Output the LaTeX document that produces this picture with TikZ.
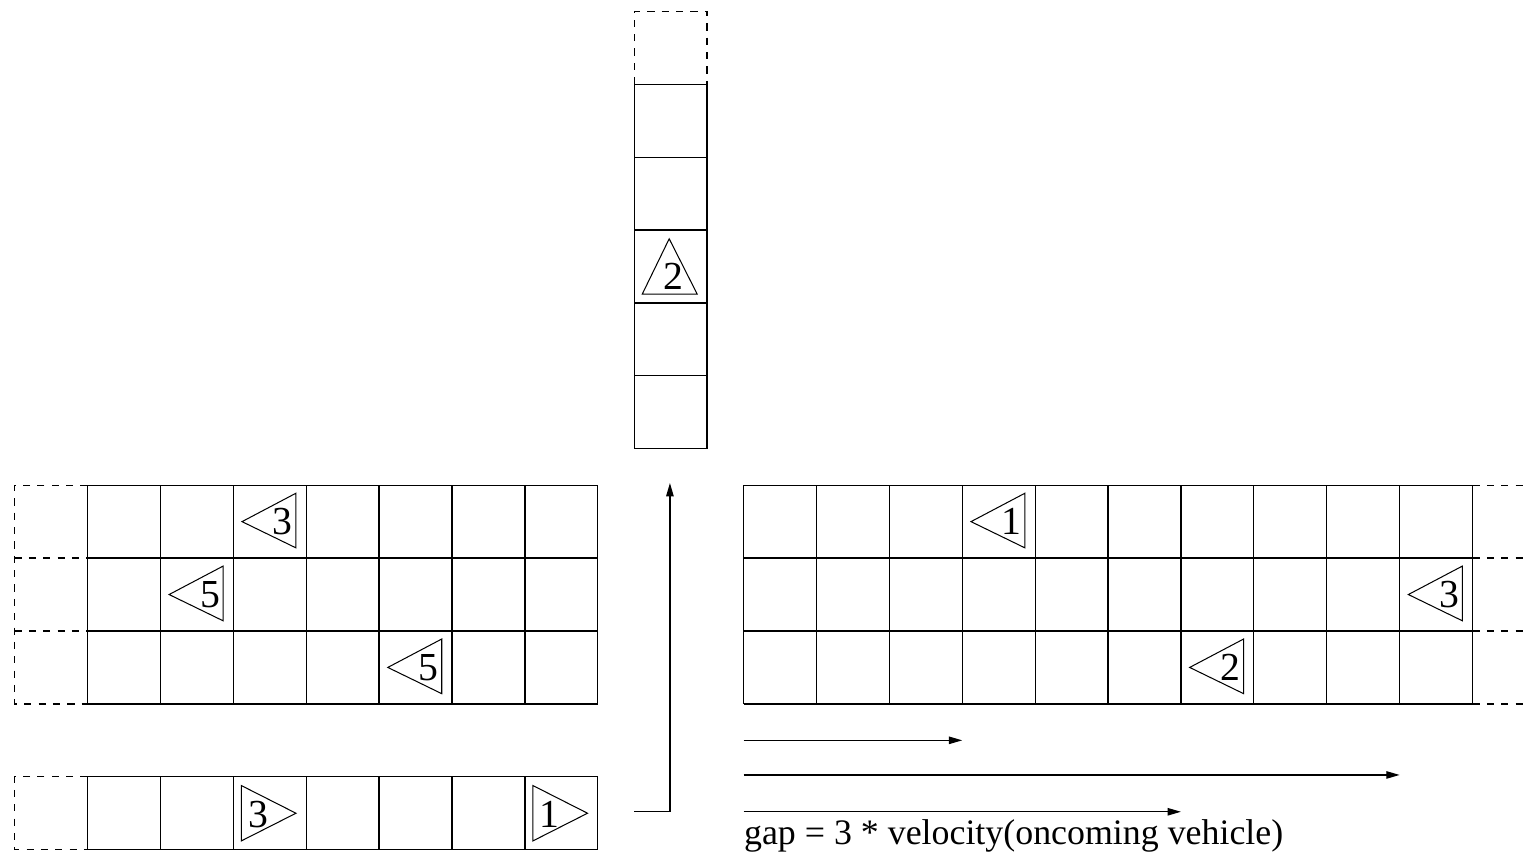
\documentclass[tikz,border=0pt]{standalone}
\usepackage{fontspec}
\setmainfont{Liberation Serif}
\usetikzlibrary{arrows.meta}

\newcommand{\carleft}[4]{%
  \draw[car] (#2+0.12,#3+0.5) -- (#2+0.86,#3+0.89) -- (#2+0.86,#3+0.14) -- cycle;
  \node[speed] (#1) at (#2+0.68,#3+0.5) {#4};}
\newcommand{\carright}[4]{%
  \draw[car] (#2+0.86,#3+0.5) -- (#2+0.11,#3+0.88) -- (#2+0.11,#3+0.12) -- cycle;
  \node[speed] (#1) at (#2+0.34,#3+0.48) {#4};}
\newcommand{\carup}[4]{%
  \draw[car] (#2+0.48,#3+0.88) -- (#2+0.11,#3+0.12) -- (#2+0.865,#3+0.12) -- cycle;
  \node[speed] (#1) at (#2+0.54,#3+0.36) {#4};}

\begin{document}
\begin{tikzpicture}[
    lane/.style={line width=0.5pt},
    dashlane/.style={line width=0.5pt, dash pattern=on 2.8pt off 2.8pt},
    car/.style={line width=0.4pt, line join=miter},
    speed/.style={inner sep=0pt, font=\fontsize{15.5}{17}\selectfont},
    note/.style={inner sep=0pt, font=\fontsize{14}{16}\selectfont},
    flow/.style={line width=0.5pt, -{Triangle[length=5.2pt, width=2.9pt]}},
]
\useasboundingbox (0,0) rectangle (20.92,11.756);

% west road, three lanes towards the west
\draw[lane, shift={(1.2,2.1)}] (0,0) grid (7,3);
\draw[dashlane] (1.2,5.1) -- (0.2,5.1) -- (0.2,2.1) -- (1.2,2.1);
\draw[dashlane] (0.2,4.1) -- (1.2,4.1);
\draw[dashlane] (0.2,3.1) -- (1.2,3.1);

% west road, lane towards the crossing
\draw[lane, shift={(1.2,0.1)}] (0,0) grid (7,1);
\draw[dashlane] (1.2,1.1) -- (0.2,1.1) -- (0.2,0.1) -- (1.2,0.1);

% north road
\draw[lane, shift={(8.7,5.6)}] (0,0) grid (1,5);
\draw[dashlane] (8.7,10.6) -- (8.7,11.6) -- (9.7,11.6) -- (9.7,10.6);

% east road
\draw[lane, shift={(10.2,2.1)}] (0,0) grid (10,3);
\foreach \y in {2.1,3.1,4.1,5.1}
  \draw[dashlane] (20.2,\y) -- (20.92,\y);

% vehicles
\carleft{west3}{3.2}{4.1}{3}
\carleft{west5a}{2.2}{3.1}{5}
\carleft{west5b}{5.2}{2.1}{5}
\carright{turn3}{3.2}{0.1}{3}
\carright{turn1}{7.2}{0.1}{1}
\carup{north2}{8.7}{7.6}{2}
\carleft{east1}{13.2}{4.1}{1}
\carleft{east3}{19.2}{3.1}{3}
\carleft{east2}{16.2}{2.1}{2}

% turning path
\coordinate (exit) at (8.7,0.62);
\coordinate (entry) at (9.19,5.13);
\draw[flow] (exit) -| (entry);

% gaps
\coordinate (gapA) at (10.2,1.6);
\coordinate (gapAend) at (13.2,1.6);
\coordinate (gapB) at (10.2,1.125);
\coordinate (gapBend) at (19.2,1.125);
\coordinate (gapC) at (10.2,0.62);
\coordinate (gapCend) at (16.2,0.62);
\draw[flow] (gapA) -- (gapAend);
\draw[flow] (gapB) -- (gapBend);
\draw[flow] (gapC) -- (gapCend);
\node[note, anchor=base west] (gaprule) at (10.2,0.17) {gap = 3 * velocity(oncoming vehicle)};
\end{tikzpicture}
\end{document}
